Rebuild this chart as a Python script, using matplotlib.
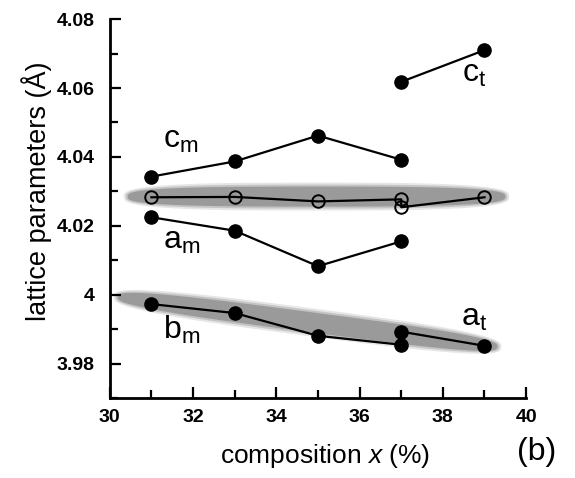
import numpy as np
import matplotlib.pyplot as plt
from matplotlib.patches import Polygon
from matplotlib.transforms import IdentityTransform
from matplotlib.ticker import MultipleLocator

plt.rcParams["font.family"] = ["Liberation Sans", "DejaVu Sans"]
plt.rcParams["mathtext.fontset"] = "custom"
plt.rcParams["mathtext.rm"] = "Liberation Sans"
plt.rcParams["mathtext.it"] = "Liberation Sans:italic"

# ==========================
# Data
# ==========================
x_ct = [37, 39]
y_ct = [4.0618, 4.0710]

x_cm = [31, 33, 35, 37]
y_cm = [4.0343, 4.0387, 4.0462, 4.0392]

# open circles -- order follows the drawn line
x_open = [31, 33, 35, 37, 37, 39]
y_open = [4.0283, 4.0284, 4.0271, 4.0277, 4.0254, 4.0283]

x_am = [31, 33, 35, 37]
y_am = [4.0225, 4.0186, 4.0083, 4.0155]

x_bm = [31, 33, 35, 37, 37, 39]
y_bm = [3.9973, 3.9947, 3.9881, 3.9855, 3.9893, 3.9852]

# gray guide bands: (x0, y0, x1, y1) end points in data units
bands = [
    (30.43, 4.0285, 39.5, 4.0285),
    (30.19, 3.9994, 39.31, 3.9849),
]

labels = [
    ("c", "m", 31.27, 4.0427),
    ("c", "t", 38.46, 4.0618),
    ("a", "m", 31.27, 4.0132),
    ("b", "m", 31.27, 3.9872),
    ("a", "t", 38.44, 3.9910),
]

fig = plt.figure(figsize=(5.75, 4.78), dpi=100)
ax = fig.add_axes([0.191, 0.167, 0.724, 0.793])
ax.set_xlim(30, 40)
ax.set_ylim(3.97, 4.08)


def band_patch(p0, p1, half_w, color, grow=0.0):
    # cigar-shaped band (superellipse) in pixel space
    c = (p0 + p1) / 2
    d = p1 - p0
    L = np.hypot(*d) / 2 + grow
    u = d / np.hypot(*d)
    v = np.array([-u[1], u[0]])
    t = np.linspace(0, 2 * np.pi, 200)
    n = 3.0
    a = np.sign(np.cos(t)) * np.abs(np.cos(t)) ** (2 / n) * L
    b = np.sign(np.sin(t)) * np.abs(np.sin(t)) ** (2 / n) * half_w
    pts = c + np.outer(a, u) + np.outer(b, v)
    return Polygon(pts, closed=True, color=color, lw=0,
                   transform=IdentityTransform(), zorder=1)


for x0, y0, x1, y1 in bands:
    p0 = ax.transData.transform((x0, y0))
    p1 = ax.transData.transform((x1, y1))
    ax.add_patch(band_patch(p0, p1, 14, "#e6e6e6", grow=4))
    ax.add_patch(band_patch(p0, p1, 12, "#c4c4c4", grow=2))
    ax.add_patch(band_patch(p0, p1, 10, "#9a9a9a"))

mk = dict(color="black", lw=1.6, marker="o", markersize=9.5, zorder=3)
ax.plot(x_ct, y_ct, **mk)
ax.plot(x_cm, y_cm, **mk)
ax.plot(x_am, y_am, **mk)
ax.plot(x_bm, y_bm, **mk)
ax.plot(x_open, y_open, color="black", lw=1.6, marker="o", markersize=9,
        markerfacecolor="none", markeredgewidth=1.4, zorder=3)

for base, sub, tx, ty in labels:
    ax.text(tx, ty, rf"$\mathrm{{{base}}}_{{\mathrm{{{sub}}}}}$", fontsize=23,
            va="baseline", ha="left")

ax.xaxis.set_major_locator(MultipleLocator(2))
ax.xaxis.set_minor_locator(MultipleLocator(1))
ax.yaxis.set_minor_locator(MultipleLocator(0.01))
ax.set_yticks([3.98, 4.0, 4.02, 4.04, 4.06, 4.08])
ax.set_yticklabels(["3.98", "4", "4.02", "4.04", "4.06", "4.08"])

ax.tick_params(which="both", direction="in", width=1.6)
ax.tick_params(which="major", length=8, labelsize=14)
ax.tick_params(which="minor", length=6)
ax.tick_params(axis="x", pad=8)
ax.tick_params(axis="y", pad=11)
for lab in ax.get_xticklabels() + ax.get_yticklabels():
    lab.set_fontweight("bold")

for s in ["top", "right"]:
    ax.spines[s].set_visible(False)
for s in ["left", "bottom"]:
    ax.spines[s].set_linewidth(2)

ax.set_xlabel(r"composition $\mathit{x}$ (%)", fontsize=19)
ax.xaxis.set_label_coords(0.517, -0.115)
ax.set_ylabel("lattice parameters (Å)", fontsize=19.5)
ax.yaxis.set_label_coords(-0.14, 0.545)
fig.text(0.934, 0.054, "(b)", fontsize=23, ha="center", va="center")

plt.savefig("out.png", dpi=100)
